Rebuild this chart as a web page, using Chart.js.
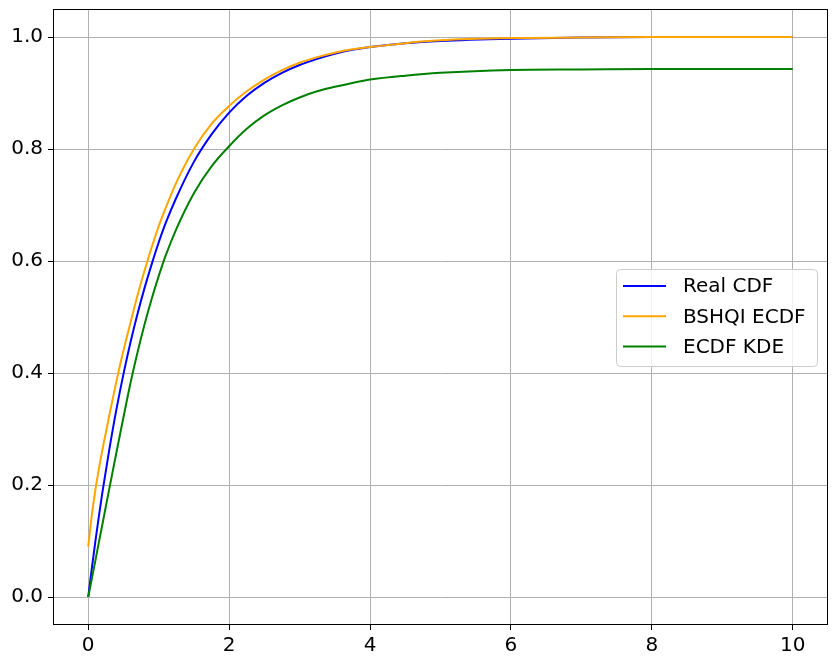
<!DOCTYPE html>
<html>
<head>
    <title>CDF comparison</title>
    <script src="https://cdn.jsdelivr.net/npm/chart.js@4.4.0/dist/chart.umd.min.js"></script>
    <style>
        body { margin: 0; background: #fff; }
        #wrap { width: 837px; height: 665px; }
    </style>
</head>
<body>
    <div id="wrap"><canvas id="cdfChart" width="837" height="665"></canvas></div>

    <script>
        // values
        const xValues   = [0, 0.05, 0.1, 0.15, 0.2, 0.3, 0.4, 0.5, 0.6, 0.7, 0.8, 0.9, 1.0, 1.1, 1.25, 1.5, 1.75, 2, 2.25, 2.5, 2.75, 3, 3.25, 3.5, 3.75, 4, 4.5, 5, 6, 7, 8, 9, 10];
        const realCdf   = [0, 0.050, 0.098, 0.143, 0.186, 0.264, 0.335, 0.398, 0.455, 0.506, 0.552, 0.594, 0.633, 0.668, 0.713, 0.777, 0.826, 0.865, 0.895, 0.918, 0.936, 0.950, 0.961, 0.970, 0.977, 0.982, 0.989, 0.993, 0.997, 0.999, 1.0, 1.0, 1.0];
        const bshqiEcdf = [0.09, 0.145, 0.19, 0.228, 0.262, 0.325, 0.385, 0.44, 0.49, 0.539, 0.583, 0.624, 0.662, 0.695, 0.74, 0.80, 0.845, 0.877, 0.903, 0.924, 0.941, 0.954, 0.964, 0.972, 0.978, 0.982, 0.989, 0.994, 0.998, 0.999, 1.0, 1.0, 1.0];
        const ecdfKde   = [0, 0.032, 0.064, 0.097, 0.129, 0.194, 0.258, 0.321, 0.382, 0.437, 0.487, 0.532, 0.573, 0.61, 0.657, 0.721, 0.769, 0.805, 0.836, 0.860, 0.878, 0.892, 0.903, 0.911, 0.918, 0.924, 0.931, 0.936, 0.941, 0.942, 0.943, 0.943, 0.943];

        const seriesNames  = ['Real CDF', 'BSHQI ECDF', 'ECDF KDE'];
        const seriesColors = ['#0000ff', '#ffa500', '#008000'];
        const xTicks = [0, 2, 4, 6, 8, 10];
        const yTicks = [0, 0.2, 0.4, 0.6, 0.8, 1.0];

        const FONT = '"DejaVu Sans", sans-serif';

        function toPoints(ys) {
            return xValues.map((x, i) => ({ x: x, y: ys[i] }));
        }

        // black box around the plot area, like matplotlib spines
        const frame = {
            id: 'frame',
            afterDraw(chart) {
                const a = chart.chartArea;
                const ctx = chart.ctx;
                ctx.save();
                ctx.strokeStyle = '#000';
                ctx.lineWidth = 1;
                ctx.strokeRect(Math.round(a.left) + 0.5, Math.round(a.top) + 0.5,
                               Math.round(a.right - a.left) - 1, Math.round(a.bottom - a.top) - 1);
                ctx.restore();
            }
        };

        // legend drawn inside the axes, right middle
        const innerLegend = {
            id: 'innerLegend',
            afterDraw(chart) {
                const ctx = chart.ctx;
                ctx.save();
                ctx.beginPath();
                ctx.roundRect(616.5, 269.5, 201, 97, 4);
                ctx.fillStyle = 'rgba(255,255,255,0.8)';
                ctx.fill();
                ctx.strokeStyle = '#cccccc';
                ctx.lineWidth = 1;
                ctx.stroke();
                ctx.font = '20px ' + FONT;
                ctx.textBaseline = 'middle';
                chart.data.datasets.forEach((ds, i) => {
                    const ry = 286 + i * 30.3;
                    ctx.strokeStyle = ds.borderColor;
                    ctx.lineWidth = 2;
                    ctx.beginPath();
                    ctx.moveTo(623, ry);
                    ctx.lineTo(666, ry);
                    ctx.stroke();
                    ctx.fillStyle = '#000';
                    ctx.fillText(ds.label, 683, ry + 1);
                });
                ctx.restore();
            }
        };

        const series = [realCdf, bshqiEcdf, ecdfKde];
        const datasets = series.map((ys, i) => ({
            label: seriesNames[i],
            data: toPoints(ys),
            borderColor: seriesColors[i],
            backgroundColor: seriesColors[i],
            borderWidth: 2,
            pointRadius: 0,
            fill: false,
            cubicInterpolationMode: 'monotone',
            order: 3 - i
        }));

        const ctx = document.getElementById('cdfChart').getContext('2d');
        new Chart(ctx, {
            type: 'line',
            data: { datasets: datasets },
            options: {
                responsive: false,
                animation: false,
                layout: { padding: { top: 9, right: 9, left: 0, bottom: 0 } },
                plugins: {
                    legend: { display: false },
                    tooltip: { enabled: false }
                },
                scales: {
                    x: {
                        type: 'linear',
                        min: -0.5,
                        max: 10.5,
                        afterBuildTicks: (s) => { s.ticks = xTicks.map(v => ({ value: v })); },
                        afterFit: (s) => {
                            s.height = 40;
                            s.paddingLeft = 0; s.paddingRight = 0;
                        },
                        grid: { color: '#b0b0b0', lineWidth: 1, tickColor: '#000', tickLength: 5, tickWidth: 1 },
                        border: { display: false },
                        ticks: {
                            color: '#000',
                            font: { family: FONT, size: 20 },
                            padding: 4,
                            maxRotation: 0,
                            callback: (v) => String(v)
                        }
                    },
                    y: {
                        type: 'linear',
                        min: -0.05,
                        max: 1.05,
                        afterBuildTicks: (s) => { s.ticks = yTicks.map(v => ({ value: v })); },
                        afterFit: (s) => {
                            s.width = 53;
                            s.paddingTop = 0; s.paddingBottom = 0;
                        },
                        grid: { color: '#b0b0b0', lineWidth: 1, tickColor: '#000', tickLength: 5, tickWidth: 1 },
                        border: { display: false },
                        ticks: {
                            color: '#000',
                            font: { family: FONT, size: 20 },
                            padding: 5,
                            callback: (v) => Number(v).toFixed(1)
                        }
                    }
                }
            },
            plugins: [frame, innerLegend]
        });
    </script>
</body>
</html>
